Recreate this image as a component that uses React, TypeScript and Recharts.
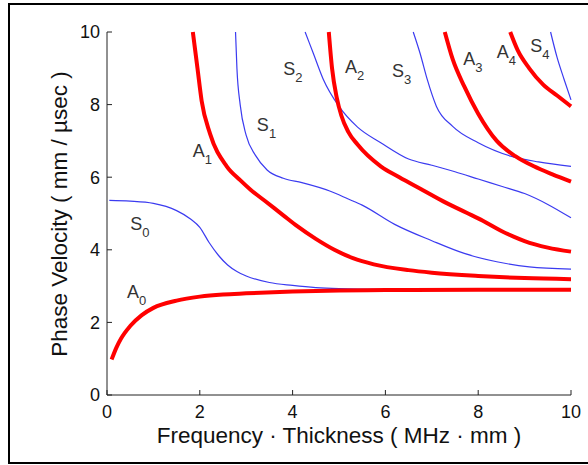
import { LineChart, Line, XAxis, YAxis, ReferenceDot, Label } from 'recharts';

// frequency-thickness (MHz·mm) and phase velocity (mm/µs)
const a0Fd = [0.1, 0.2, 0.3, 0.5, 0.75, 1, 1.5, 2, 2.5, 3, 4, 5, 6, 8, 10];
const a0Vp = [0.98, 1.3, 1.55, 1.9, 2.2, 2.4, 2.6, 2.71, 2.77, 2.8, 2.85, 2.88, 2.89, 2.9, 2.9];

const s0Fd = [0.05, 0.5, 1.0, 1.5, 1.8, 2.0, 2.2, 2.4, 2.6, 2.8, 3.0, 3.5, 4, 4.5, 5, 6, 8, 10];
const s0Vp = [5.36, 5.34, 5.28, 5.08, 4.85, 4.62, 4.2, 3.85, 3.58, 3.4, 3.28, 3.1, 3.02, 2.96, 2.93, 2.91, 2.9, 2.9];

const a1Fd = [1.85, 1.95, 2.04, 2.22, 2.58, 2.87, 3.1, 3.4, 3.8, 4.1, 4.5, 4.9, 5.3, 5.75, 6.5, 7, 8, 9, 10];
const a1Vp = [10, 9, 8.1, 7.2, 6.3, 5.92, 5.65, 5.35, 4.95, 4.65, 4.3, 4.0, 3.77, 3.6, 3.44, 3.37, 3.28, 3.22, 3.19];

const s1Fd = [2.77, 2.8, 2.87, 3.0, 3.2, 3.45, 3.8, 4.2, 4.8, 5.2, 5.5, 6.2, 7.0, 7.7, 8.4, 9.1, 10];
const s1Vp = [10, 9, 8.0, 7.15, 6.6, 6.2, 5.97, 5.85, 5.62, 5.4, 5.23, 4.7, 4.25, 3.9, 3.67, 3.53, 3.47];

const s2Fd = [4.27, 4.45, 4.66, 5.0, 5.4, 5.9, 6.5, 7.0, 7.5, 8.0, 8.5, 9.0, 9.5, 10];
const s2Vp = [10, 9.4, 8.7, 7.95, 7.38, 6.95, 6.5, 6.33, 6.15, 5.95, 5.75, 5.55, 5.25, 4.88];

const a2Fd = [4.78, 4.85, 4.95, 5.05, 5.2, 5.4, 5.9, 6.3, 6.8, 7.3, 7.75, 8.1, 8.5, 8.75, 9.0, 9.5, 10];
const a2Vp = [10, 9, 8.2, 7.7, 7.25, 6.9, 6.3, 6.0, 5.65, 5.3, 5.02, 4.8, 4.52, 4.37, 4.24, 4.06, 3.95];

const s3Fd = [6.6, 6.75, 6.9, 7.1, 7.45, 8.0, 8.7, 9.3, 10];
const s3Vp = [10, 9.4, 8.7, 7.95, 7.4, 6.95, 6.58, 6.42, 6.3];

const a3Fd = [7.28, 7.45, 7.7, 8.0, 8.4, 8.8, 9.2, 9.6, 10];
const a3Vp = [10, 9.25, 8.5, 7.75, 7.0, 6.58, 6.3, 6.08, 5.88];

const a4Fd = [8.69, 8.85, 9.1, 9.4, 9.7, 10];
const a4Vp = [10, 9.5, 9.0, 8.55, 8.25, 7.95];

const s4Fd = [9.56, 9.7, 9.85, 10];
const s4Vp = [10, 9.3, 8.7, 8.13];

const xTicks = [0, 2, 4, 6, 8, 10];
const yTicks = [0, 2, 4, 6, 8, 10];

const tagNames = ['A0', 'S0', 'A1', 'S1', 'S2', 'A2', 'S3', 'A3', 'A4', 'S4'];
const tagFd = [0.43, 0.5, 1.85, 3.23, 3.8, 5.13, 6.14, 7.68, 8.4, 9.12];
const tagVp = [2.67, 4.55, 6.56, 7.27, 8.82, 8.86, 8.75, 9.09, 9.28, 9.46];

const zip = (fd: number[], vp: number[]) => fd.map((x, i) => ({ x, y: vp[i] }));

const symModes = [zip(s0Fd, s0Vp), zip(s1Fd, s1Vp), zip(s2Fd, s2Vp), zip(s3Fd, s3Vp), zip(s4Fd, s4Vp)];
const antiModes = [zip(a0Fd, a0Vp), zip(a1Fd, a1Vp), zip(a2Fd, a2Vp), zip(a3Fd, a3Vp), zip(a4Fd, a4Vp)];

const FONT = 'Arial, "Liberation Sans", Helvetica, sans-serif';

function ModeTag({ cx, cy, name }: { cx?: number; cy?: number; name: string }) {
  return (
    <text x={cx} y={cy} fill="#333" fontSize={18} fontFamily={FONT}>
      {name[0]}
      <tspan fontSize={13} dy={7}>{name.slice(1)}</tspan>
    </text>
  );
}

export default function App() {
  return (
    <div style={{ position: 'absolute', left: 0, top: 0, width: 588, height: 465, background: '#fff', overflow: 'hidden' }}>
      <div
        style={{
          position: 'absolute', left: 8, top: 3, width: 580, height: 457,
          borderLeft: '2px solid #000', borderTop: '2px solid #000', borderBottom: '2px solid #000',
        }}
      />
      <LineChart width={588} height={465} margin={{ top: 32, right: 17, bottom: 0, left: 0 }}>
        <XAxis
          dataKey="x"
          type="number"
          domain={[0, 10]}
          ticks={xTicks}
          height={70}
          tickSize={-5}
          tickMargin={15}
          axisLine={{ stroke: '#222' }}
          tickLine={{ stroke: '#222' }}
          tick={{ fill: '#111', fontSize: 18, fontFamily: FONT }}
        >
          <Label
            value="Frequency · Thickness ( MHz · mm )"
            position="insideBottom"
            offset={22}
            fill="#111"
            fontSize={22.5}
            fontFamily={FONT}
          />
        </XAxis>
        <XAxis
          xAxisId="top"
          orientation="top"
          type="number"
          domain={[0, 10]}
          ticks={xTicks}
          height={0}
          tickSize={-5}
          axisLine={{ stroke: '#888' }}
          tickLine={{ stroke: '#888' }}
          tickFormatter={() => ''}
        />
        <YAxis
          type="number"
          domain={[0, 10]}
          ticks={yTicks}
          width={107}
          tickSize={-5}
          tickMargin={12}
          axisLine={{ stroke: '#222' }}
          tickLine={{ stroke: '#222' }}
          tick={{ fill: '#111', fontSize: 18, fontFamily: FONT }}
        >
          <Label
            content={() => (
              <text
                x={59}
                y={214}
                transform="rotate(-90 59 214)"
                textAnchor="middle"
                dominantBaseline="central"
                fill="#111"
                fontSize={22.5}
                fontFamily={FONT}
              >
                Phase Velocity ( mm / µsec )
              </text>
            )}
          />
        </YAxis>
        <YAxis
          yAxisId="right"
          orientation="right"
          type="number"
          domain={[0, 10]}
          ticks={yTicks}
          width={0}
          tickSize={-5}
          axisLine={{ stroke: '#888' }}
          tickLine={{ stroke: '#888' }}
          tickFormatter={() => ''}
        />
        {symModes.map((d, i) => (
          <Line
            key={'s' + i}
            data={d}
            dataKey="y"
            type="monotone"
            stroke="#3b3bf0"
            strokeWidth={1.2}
            dot={false}
            activeDot={false}
            isAnimationActive={false}
          />
        ))}
        {antiModes.map((d, i) => (
          <Line
            key={'a' + i}
            data={d}
            dataKey="y"
            type="monotone"
            stroke="#ff0000"
            strokeWidth={4}
            dot={false}
            activeDot={false}
            isAnimationActive={false}
          />
        ))}
        {tagNames.map((name, i) => (
          <ReferenceDot
            key={name}
            x={tagFd[i]}
            y={tagVp[i]}
            r={0}
            shape={(p: any) => <ModeTag cx={p.cx} cy={p.cy} name={name} />}
          />
        ))}
      </LineChart>
    </div>
  );
}
